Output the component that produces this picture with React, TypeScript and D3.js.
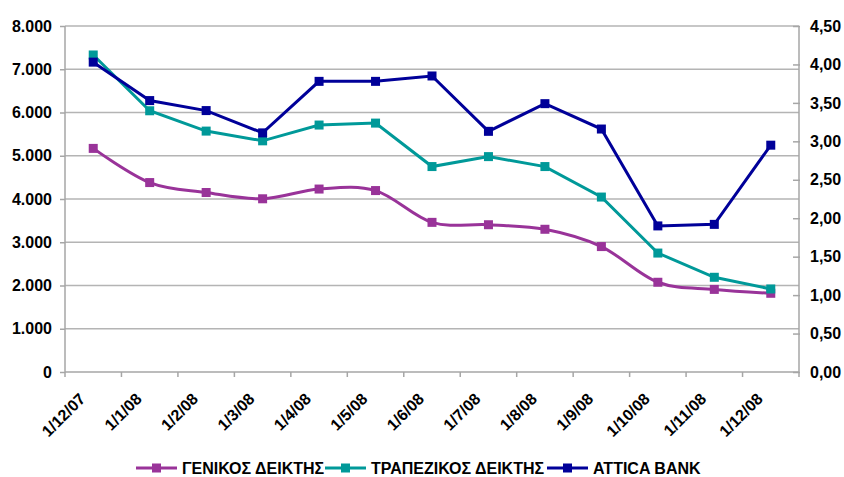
import React, { useEffect, useRef } from "react";
import * as d3 from "d3";

// Dates on the category axis
const dates = [
  "1/12/07", "1/1/08", "1/2/08", "1/3/08", "1/4/08", "1/5/08", "1/6/08",
  "1/7/08", "1/8/08", "1/9/08", "1/10/08", "1/11/08", "1/12/08",
];

// ΓΕΝΙΚΟΣ ΔΕΙΚΤΗΣ (left axis)
const genikos = [5170, 4380, 4150, 4005, 4230, 4195, 3460, 3405, 3300, 2900, 2075, 1910, 1820];
// ΤΡΑΠΕΖΙΚΟΣ ΔΕΙΚΤΗΣ (left axis)
const trapezikos = [7330, 6040, 5570, 5345, 5710, 5755, 4750, 4980, 4750, 4045, 2750, 2190, 1920];
// ATTICA BANK (right axis)
const attica = [4.03, 3.53, 3.4, 3.11, 3.78, 3.78, 3.85, 3.13, 3.49, 3.16, 1.9, 1.92, 2.95];

const leftTicks = [0, 1000, 2000, 3000, 4000, 5000, 6000, 7000, 8000];
const rightTicks = [0, 0.5, 1, 1.5, 2, 2.5, 3, 3.5, 4, 4.5];

const seriesNames = ["ΓΕΝΙΚΟΣ ΔΕΙΚΤΗΣ", "ΤΡΑΠΕΖΙΚΟΣ ΔΕΙΚΤΗΣ", "ATTICA BANK"];
const colors = ["#993399", "#009999", "#000099"];

const App = () => {
  const ref = useRef<SVGSVGElement>(null);

  useEffect(() => {
    const svg = d3.select(ref.current);
    svg.selectAll("*").remove();

    const left = 65;
    const right = 799;
    const top = 26;
    const bottom = 372;
    const font = "'Liberation Sans', Arial, sans-serif";

    const x = d3.scaleBand().domain(dates).range([left, right]);
    const yL = d3.scaleLinear().domain([0, 8000]).range([bottom, top]);
    const yR = d3.scaleLinear().domain([0, 4.5]).range([bottom, top]);

    const fmtL = (v: number) => d3.format(",")(v).replace(/,/g, ".");
    const fmtR = (v: number) => v.toFixed(2).replace(".", ",");

    // gridlines
    svg
      .append("g")
      .selectAll("line")
      .data(leftTicks.slice(1))
      .enter()
      .append("line")
      .attr("x1", left)
      .attr("x2", right)
      .attr("y1", (d) => yL(d))
      .attr("y2", (d) => yL(d))
      .attr("stroke", "#b4b4b4")
      .attr("stroke-width", 1.3);

    // left axis
    const gL = svg.append("g").attr("transform", `translate(${left},0)`);
    gL.call(d3.axisLeft(yL).tickValues(leftTicks).tickFormat((d) => fmtL(+d)).tickSize(5).tickPadding(8));
    gL.select(".domain").remove();
    gL.append("line").attr("y1", top).attr("y2", bottom).attr("stroke", "#a6a6a6").attr("stroke-width", 1.5);
    gL.selectAll(".tick line").attr("stroke", "#a6a6a6").attr("stroke-width", 1.5);
    gL.selectAll(".tick text")
      .attr("font-family", font)
      .attr("font-size", 16)
      .attr("font-weight", "bold")
      .attr("fill", "#000");

    // right axis
    const gR = svg.append("g").attr("transform", `translate(${right},0)`);
    gR.call(d3.axisRight(yR).tickValues(rightTicks).tickFormat((d) => fmtR(+d)).tickSize(0).tickPadding(11));
    gR.select(".domain").remove();
    gR.append("line").attr("y1", top).attr("y2", bottom).attr("stroke", "#a6a6a6").attr("stroke-width", 1.5);
    gR.selectAll(".tick")
      .append("line")
      .attr("x1", -6)
      .attr("x2", 1)
      .attr("stroke", "#a6a6a6")
      .attr("stroke-width", 1.5);
    gR.selectAll(".tick text")
      .attr("font-family", font)
      .attr("font-size", 16)
      .attr("font-weight", "bold")
      .attr("fill", "#000");

    // bottom axis
    const gB = svg.append("g");
    gB.append("line")
      .attr("x1", left)
      .attr("x2", right)
      .attr("y1", bottom)
      .attr("y2", bottom)
      .attr("stroke", "#a6a6a6")
      .attr("stroke-width", 1.5);
    const edges = dates.map((d) => x(d) as number).concat([right]);
    gB.selectAll(".xt")
      .data(edges)
      .enter()
      .append("line")
      .attr("x1", (d) => d)
      .attr("x2", (d) => d)
      .attr("y1", bottom)
      .attr("y2", bottom + 5)
      .attr("stroke", "#a6a6a6")
      .attr("stroke-width", 1.5);
    gB.selectAll("text")
      .data(dates)
      .enter()
      .append("text")
      .attr("transform", (d) => `translate(${(x(d) as number) + x.bandwidth() / 2 - 7},${bottom + 28}) rotate(-45)`)
      .attr("text-anchor", "end")
      .attr("font-family", font)
      .attr("font-size", 16)
      .attr("font-weight", "bold")
      .text((d) => d);

    // series
    const cx = (i: number) => (x(dates[i]) as number) + x.bandwidth() / 2;
    const series = [
      { values: genikos, y: yL, curve: d3.curveCardinal.tension(0) },
      { values: trapezikos, y: yL, curve: d3.curveLinear },
      { values: attica, y: yR, curve: d3.curveLinear },
    ];

    series.forEach((s, k) => {
      const line = d3
        .line<number>()
        .x((_, i) => cx(i))
        .y((d) => s.y(d))
        .curve(s.curve);
      svg
        .append("path")
        .datum(s.values)
        .attr("d", line)
        .attr("fill", "none")
        .attr("stroke", colors[k])
        .attr("stroke-width", 3);
      svg
        .append("g")
        .selectAll("rect")
        .data(s.values)
        .enter()
        .append("rect")
        .attr("x", (_, i) => cx(i) - 4.5)
        .attr("y", (d) => s.y(d) - 4.5)
        .attr("width", 9)
        .attr("height", 9)
        .attr("fill", colors[k]);
    });

    // legend
    const legendX = [136, 325, 547];
    const legendY = 468;
    const lg = svg.append("g");
    seriesNames.forEach((name, k) => {
      const g = lg.append("g").attr("transform", `translate(${legendX[k]},${legendY})`);
      g.append("line").attr("x1", 0).attr("x2", 41).attr("stroke", colors[k]).attr("stroke-width", 3);
      g.append("rect").attr("x", 16).attr("y", -4.5).attr("width", 9).attr("height", 9).attr("fill", colors[k]);
      g.append("text")
        .attr("x", 46)
        .attr("y", 6)
        .attr("font-family", font)
        .attr("font-size", 16)
        .attr("font-weight", "bold")
        .text(name);
    });
  }, []);

  return (
    <svg
      ref={ref}
      width={844}
      height={477}
      style={{ position: "absolute", left: 0, top: 0, background: "#fff" }}
    />
  );
};

export default App;
